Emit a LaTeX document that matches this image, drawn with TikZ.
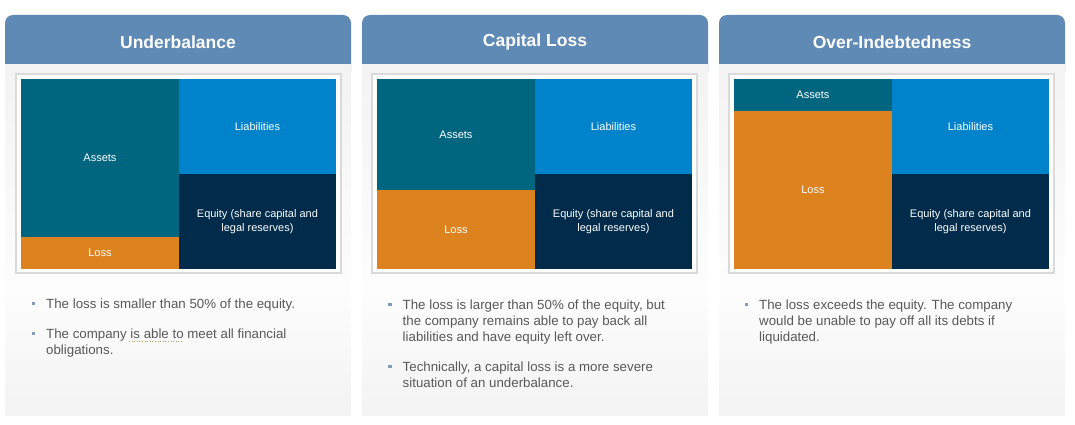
\documentclass[tikz,border=0pt]{standalone}
\usepackage{fontspec}
\setmainfont{Liberation Sans}
\definecolor{headblue}{HTML}{5F8AB5}
\definecolor{assetteal}{HTML}{00657F}
\definecolor{liabblue}{HTML}{0083CA}
\definecolor{equitynavy}{HTML}{002B4A}
\definecolor{lossorange}{HTML}{DC8320}
\definecolor{bodygray}{HTML}{F3F3F3}
\definecolor{bodylight}{HTML}{FDFDFD}
\definecolor{textgray}{HTML}{595959}
\definecolor{bulletblue}{HTML}{7D9CC0}
\definecolor{framegray}{HTML}{DADADA}
\definecolor{squiggle}{HTML}{C0A060}
\begin{document}
\begin{tikzpicture}[x=1pt, y=-1pt,
	header/.style={text=white, font=\fontsize{17.5}{20}\selectfont\bfseries},
	block/.style={anchor=north west, inner sep=0pt, minimum width=157.5pt, text=white, align=center, font=\fontsize{11}{14}\selectfont},
	bullettext/.style={anchor=north west, inner sep=0pt, text=textgray, align=left, font=\fontsize{13.3}{16}\selectfont},
	bulletmark/.style={fill=bulletblue, inner sep=0pt, minimum size=3.5pt}]
	\useasboundingbox (0,0) rectangle (1075,425);
	% panel backgrounds
	\fill[headblue, rounded corners=8pt] (5,15) rectangle (351,80);
	\fill[headblue, rounded corners=8pt] (362,15) rectangle (708,80);
	\fill[headblue, rounded corners=8pt] (719,15) rectangle (1065,80);
	\shade[top color=bodygray, bottom color=bodylight] (5,65) rectangle (351,290);
	\shade[top color=bodygray, bottom color=bodylight] (362,65) rectangle (708,290);
	\shade[top color=bodygray, bottom color=bodylight] (719,65) rectangle (1065,290);
	\shade[top color=bodylight, bottom color=bodygray] (5,290) rectangle (351,415);
	\shade[top color=bodylight, bottom color=bodygray] (362,290) rectangle (708,415);
	\shade[top color=bodylight, bottom color=bodygray] (719,290) rectangle (1065,415);
	\node[header] (ub-head) at (178,42) {Underbalance};
	\node[header] (cl-head) at (535,42) {Capital Loss};
	\node[header] (oi-head) at (892,42) {Over-Indebtedness};
	% chart frames
	\draw[framegray, line width=2pt, fill=white] (16,74) rectangle (341,273);
	\draw[framegray, line width=2pt, fill=white] (372,74) rectangle (697,273);
	\draw[framegray, line width=2pt, fill=white] (729,74) rectangle (1054,273);
	% underbalance
	\node[block, fill=assetteal, minimum height=158pt] (ub-assets) at (21,79) {Assets};
	\node[block, fill=lossorange, minimum height=32pt] (ub-loss) at (21,237) {Loss};
	\node[block, fill=liabblue, minimum height=95pt] (ub-liab) at (178.5,79) {Liabilities};
	\node[block, fill=equitynavy, minimum height=95pt] (ub-equity) at (178.5,174) {Equity (share capital and\\legal reserves)};
	% capital loss
	\node[block, fill=assetteal, minimum height=111pt] (cl-assets) at (377,79) {Assets};
	\node[block, fill=lossorange, minimum height=79pt] (cl-loss) at (377,190) {Loss};
	\node[block, fill=liabblue, minimum height=95pt] (cl-liab) at (534.5,79) {Liabilities};
	\node[block, fill=equitynavy, minimum height=95pt] (cl-equity) at (534.5,174) {Equity (share capital and\\legal reserves)};
	% over-indebtedness
	\node[block, fill=assetteal, minimum height=32pt] (oi-assets) at (734,79) {Assets};
	\node[block, fill=lossorange, minimum height=158pt] (oi-loss) at (734,111) {Loss};
	\node[block, fill=liabblue, minimum height=95pt] (oi-liab) at (891.5,79) {Liabilities};
	\node[block, fill=equitynavy, minimum height=95pt] (oi-equity) at (891.5,174) {Equity (share capital and\\legal reserves)};
	% bullet points
	\node[bulletmark] (ub-dot1) at (33.5,303.5) {};
	\node[bullettext] (ub-text1) at (46,298.5) {The loss is smaller than 50\% of the equity.};
	\node[bulletmark] (ub-dot2) at (33.5,333.5) {};
	\node[bullettext] (ub-text2) at (46,328.5) {The company is able to meet all financial\\obligations.};
	\draw[squiggle, dotted, line width=0.6pt] (129,341.5) -- (182,341.5);
	\node[bulletmark] (cl-dot1) at (390,304.5) {};
	\node[bullettext] (cl-text1) at (402.5,299.5) {The loss is larger than 50\% of the equity, but\\the company remains able to pay back all\\liabilities and have equity left over.};
	\node[bulletmark] (cl-dot2) at (390,366.5) {};
	\node[bullettext] (cl-text2) at (402.5,361.5) {Technically, a capital loss is a more severe\\situation of an underbalance.};
	\node[bulletmark] (oi-dot1) at (746.5,304.5) {};
	\node[bullettext] (oi-text1) at (759,299.5) {The loss exceeds the equity. The company\\would be unable to pay off all its debts if\\liquidated.};
\end{tikzpicture}
\end{document}
